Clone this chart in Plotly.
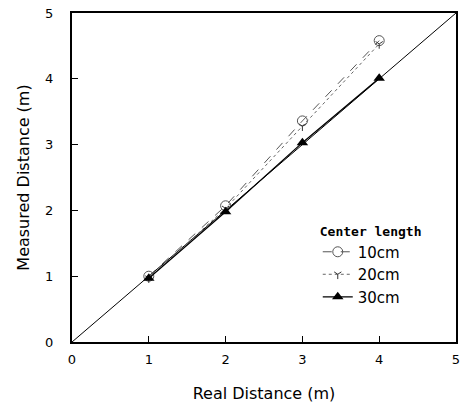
import plotly.graph_objects as go

real = [1, 2, 3, 4]
m10 = [1.00, 2.07, 3.36, 4.58]
m20 = [0.97, 2.03, 3.28, 4.53]
m30 = [0.97, 1.98, 3.03, 4.01]
ideal_x = [0, 5]
ideal_y = [0, 5]

fig = go.Figure()
fig.add_trace(go.Scatter(x=ideal_x, y=ideal_y, mode="lines",
                         line=dict(color="black", width=1), showlegend=False, hoverinfo="skip"))
fig.add_trace(go.Scatter(x=real, y=m10, mode="lines+markers", name="10cm",
                         line=dict(color="#555", width=1, dash="dash"),
                         marker=dict(symbol="circle-open", size=10, color="#555")))
fig.add_trace(go.Scatter(x=real, y=m20, mode="lines+markers", name="20cm",
                         line=dict(color="#666", width=1, dash="dot"),
                         marker=dict(symbol="y-down-open", size=6, color="#333", line=dict(width=1))))
fig.add_trace(go.Scatter(x=real, y=m30, mode="lines+markers", name="30cm",
                         line=dict(color="black", width=1.3),
                         marker=dict(symbol="triangle-up", size=10, color="black")))

font = dict(family="DejaVu Sans, sans-serif", color="black")
axis_common = dict(range=[0, 5], tickvals=[0, 1, 2, 3, 4, 5], ticks="inside", ticklen=6,
                   showgrid=False, zeroline=False, showline=True, linecolor="black", linewidth=2,
                   mirror=True, tickcolor="black", tickfont=dict(size=13),
                   ticklabeloverflow="allow", automargin=False)
fig.update_layout(
    width=463, height=406,
    margin=dict(l=72, r=7, t=13, b=64),
    paper_bgcolor="white", plot_bgcolor="white",
    font=dict(**font, size=13),
    legend=dict(x=0.64, y=0.375, xanchor="left", yanchor="top",
                bgcolor="rgba(0,0,0,0)",
                title=dict(text="<b>Center length</b>",
                           font=dict(family="DejaVu Sans Mono, monospace", size=13)),
                font=dict(size=15), itemwidth=30, tracegroupgap=0),
    xaxis=dict(**axis_common, ticklabelstandoff=4,
               title=dict(text="Real Distance (m)", font=dict(size=16), standoff=22)),
    yaxis=dict(**axis_common, ticklabelstandoff=14,
               title=dict(text="Measured Distance (m)", font=dict(size=16), standoff=12)),
)
fig.write_html("out.html", post_script="document.body.style.margin='0';",
               config={"displayModeBar": False})
